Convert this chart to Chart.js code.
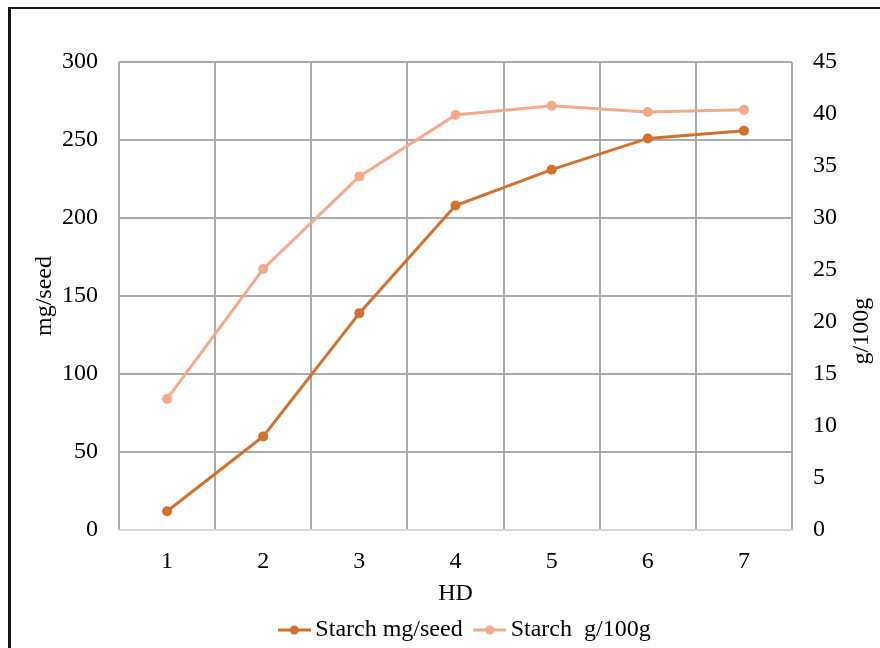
<!DOCTYPE html>
<html>
<head>
<meta charset="utf-8">
<script src="https://cdn.jsdelivr.net/npm/chart.js@4/dist/chart.umd.min.js"></script>
<style>
  html, body { margin: 0; padding: 0; background: #fff; }
  #wrap { position: relative; width: 880px; height: 648px; overflow: hidden; }
  #frame { position: absolute; left: 8px; top: 7px; width: 1000px; height: 800px;
           border-left: 3px solid #151515; border-top: 2px solid #151515; pointer-events: none; }
  canvas { position: absolute; left: 0; top: 0; }
</style>
</head>
<body>
<div id="wrap">
  <canvas id="c" width="880" height="648"></canvas>
  <div id="frame"></div>
</div>
<script>
// Harvest days
const categories = ['1', '2', '3', '4', '5', '6', '7'];
// Starch content per seed (mg/seed), left axis
const starchMgSeed = [12, 60, 139, 208, 231, 251, 256];
// Starch concentration (g/100g), right axis
const starchG100g = [12.6, 25.1, 34.0, 39.9, 40.8, 40.2, 40.4];

const seriesNames = ['Starch mg/seed', 'Starch  g/100g'];
const leftTitle = 'mg/seed';
const rightTitle = 'g/100g';
const xTitle = 'HD';

const DARK = '#D2712D';
const LIGHT = '#F3AA8B';
const GRID = '#ABABAB';
const FONT = 'Liberation Serif, Times New Roman, serif';

// legend marker: short line with a dot in the middle
function legendMarker(color) {
  const cv = document.createElement('canvas');
  cv.width = 33; cv.height = 10;
  const g = cv.getContext('2d');
  g.strokeStyle = color; g.lineWidth = 3;
  g.beginPath(); g.moveTo(0, 5); g.lineTo(33, 5); g.stroke();
  g.fillStyle = color;
  g.beginPath(); g.arc(16.5, 5, 4.5, 0, Math.PI * 2); g.fill();
  return cv;
}

// rotated title for the right-hand axis
const rightTitlePlugin = {
  id: 'rightTitle',
  afterDraw(chart) {
    const s = chart.scales.y1;
    const ctx = chart.ctx;
    ctx.save();
    ctx.font = '24px ' + FONT;
    ctx.fillStyle = '#000';
    ctx.textAlign = 'center';
    ctx.textBaseline = 'middle';
    ctx.translate(s.right - 18, s.top + (s.bottom - s.top) * 0.575);
    ctx.rotate(-Math.PI / 2);
    ctx.fillText(rightTitle, 0, 0);
    ctx.restore();
  }
};

new Chart(document.getElementById('c'), {
  type: 'line',
  data: {
    labels: categories,
    datasets: [
      {
        label: seriesNames[0], data: starchMgSeed, yAxisID: 'y',
        borderColor: DARK, backgroundColor: DARK, borderWidth: 3,
        pointRadius: 5, pointBackgroundColor: DARK, pointBorderWidth: 0,
        tension: 0, order: 1
      },
      {
        label: seriesNames[1], data: starchG100g, yAxisID: 'y1',
        borderColor: LIGHT, backgroundColor: LIGHT, borderWidth: 3,
        pointRadius: 5, pointBackgroundColor: LIGHT, pointBorderWidth: 0,
        tension: 0, order: 2
      }
    ]
  },
  options: {
    responsive: false,
    animation: false,
    devicePixelRatio: 1,
    layout: { padding: { top: 62, left: 56, right: 0, bottom: -4 } },
    plugins: {
      tooltip: { enabled: false },
      legend: {
        position: 'bottom',
        labels: {
          usePointStyle: true,
          pointStyleWidth: 18,
          padding: 18,
          color: '#000',
          font: { family: FONT, size: 24 },
          generateLabels(chart) {
            return chart.data.datasets.map((ds, i) => ({
              text: ds.label,
              pointStyle: legendMarker(ds.borderColor),
              fillStyle: ds.borderColor,
              strokeStyle: ds.borderColor,
              lineWidth: 0,
              hidden: false,
              datasetIndex: i,
              fontColor: '#000'
            }));
          }
        }
      }
    },
    scales: {
      x: {
        type: 'category',
        offset: true,
        grid: {
          offset: true, drawTicks: false, lineWidth: 2,
          color: GRID
        },
        border: { display: true, color: '#D9D9D9', width: 2 },
        ticks: { color: '#000', font: { family: FONT, size: 24 }, padding: 17, maxRotation: 0 },
        title: {
          display: true, text: xTitle, color: '#000',
          font: { family: FONT, size: 24 }, padding: { top: 0, bottom: -8 }
        },
        afterFit(scale) { scale.height = 70; }
      },
      y: {
        position: 'left',
        min: 0, max: 300,
        ticks: { stepSize: 50, color: '#000', font: { family: FONT, size: 24 }, padding: 21 },
        grid: {
          drawTicks: false, lineWidth: 2,
          color: (c) => (c.tick && c.tick.value === 0 ? '#D9D9D9' : GRID)
        },
        border: { display: false },
        title: {
          display: true, text: leftTitle, color: '#000',
          font: { family: FONT, size: 24 }, padding: { top: -26, bottom: 0 }
        },
        afterFit(scale) { scale.width = 63; }
      },
      y1: {
        position: 'right',
        min: 0, max: 45,
        ticks: { stepSize: 5, color: '#000', font: { family: FONT, size: 24 }, padding: 21 },
        grid: { drawOnChartArea: false, drawTicks: false },
        border: { display: false },
        afterFit(scale) { scale.width = 88; }
      }
    }
  },
  plugins: [rightTitlePlugin]
});
</script>
</body>
</html>
